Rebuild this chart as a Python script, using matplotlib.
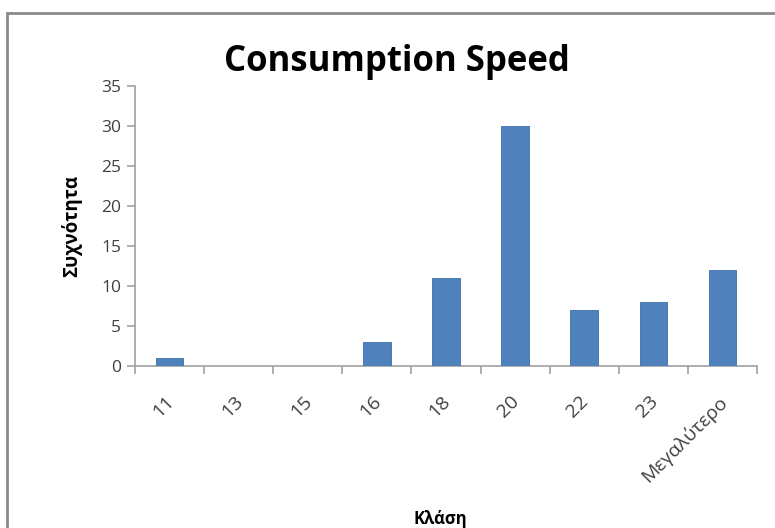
import matplotlib
matplotlib.use("Agg")
import matplotlib.pyplot as plt
from matplotlib.patches import Rectangle
import numpy as np

categories = ["11", "13", "15", "16", "18", "20", "22", "23", "Μεγαλύτερο"]
frequencies = [1, 0, 0, 3, 11, 30, 7, 8, 12]
y_ticks = [0, 5, 10, 15, 20, 25, 30, 35]

W, H = 775, 528
fig = plt.figure(figsize=(W / 100, H / 100), dpi=100)
plt.rcParams['font.family'] = ['Open Sans', 'DejaVu Sans']

# axes box in pixel coords
x0, x1 = 135, 757
y_top, y_bot = 86, 366
ax = fig.add_axes([x0 / W, 1 - y_bot / H, (x1 - x0) / W, (y_bot - y_top) / H])

x = np.arange(len(categories))
ax.bar(x, frequencies, width=0.4, color="#4F81BD", edgecolor="#3C6FA8", linewidth=0.6, zorder=3)

ax.set_xlim(-0.5, len(categories) - 0.5)
ax.set_ylim(0, 35)
ax.set_yticks(y_ticks)
ax.set_yticklabels([str(v) for v in y_ticks], fontsize=12.5, color="#404040")

ax.set_xticks(np.arange(len(categories) + 1) - 0.5)
ax.set_xticklabels([])
ax.set_xticks(x - 0.07, minor=True)
ax.set_xticklabels(categories, minor=True, rotation=45, ha="right", va="top",
                   rotation_mode="anchor", fontsize=14, color="#404040")
ax.tick_params(axis="x", which="minor", length=0, pad=19)
ax.tick_params(axis="x", which="major", length=6, color="#A0A0A0", width=1.2)
ax.tick_params(axis="y", length=6, color="#A0A0A0", width=1.2, pad=4)

for s in ["top", "right"]:
    ax.spines[s].set_visible(False)
for s in ["left", "bottom"]:
    ax.spines[s].set_color("#A0A0A0")
    ax.spines[s].set_linewidth(1.2)

fig.text(397 / W, 1 - 62 / H, "Consumption Speed", ha="center", va="center",
         fontsize=25, fontweight="bold", color="black")
fig.text(72 / W, 1 - 226 / H, "Συχνότητα", ha="center", va="center",
         rotation=90, fontsize=13.5, fontweight="bold", color="black")
fig.text(440 / W, 1 - 519 / H, "Κλάση", ha="center", va="center",
         fontsize=12, fontweight="bold", color="black")

# chart border
fig.patches.append(Rectangle((7 / W, -0.1), 1.2, 1 - 13 / H + 0.1,
                             transform=fig.transFigure, fill=False,
                             edgecolor="#8A8A8A", linewidth=2))

fig.savefig("out.png", dpi=100, facecolor="white")
